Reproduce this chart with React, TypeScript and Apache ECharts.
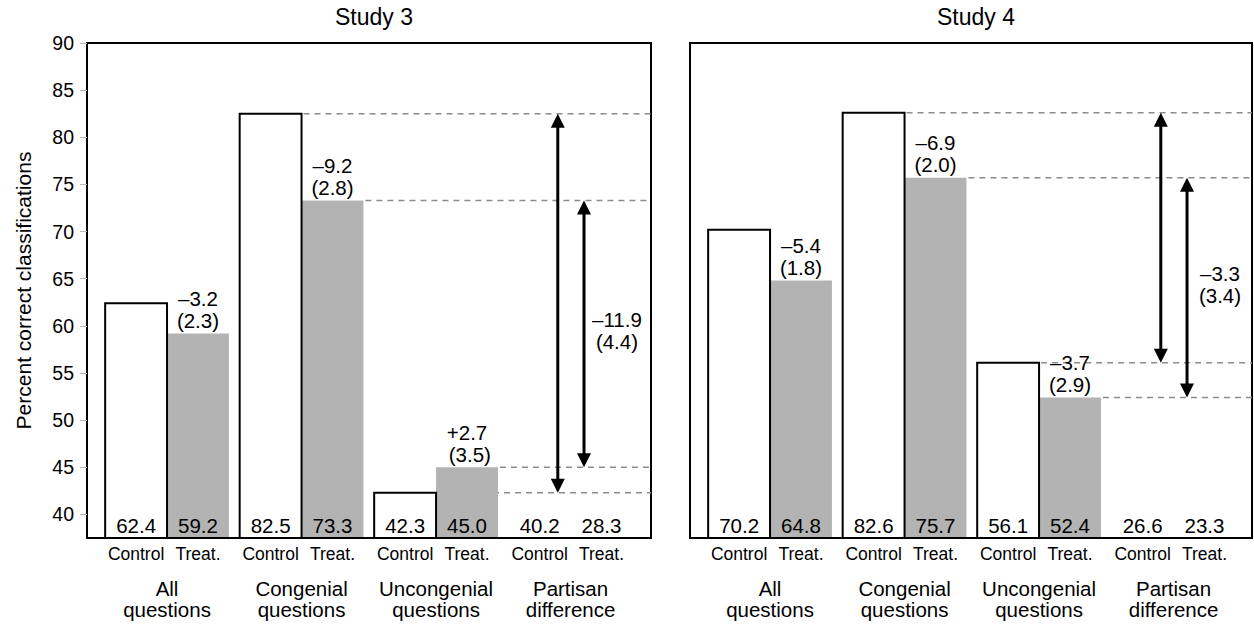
import React, { useEffect, useRef } from "react";
import * as echarts from "echarts";

// ---------- data ----------
const titles = ["Study 3", "Study 4"];
const groupLabels = ["All\nquestions", "Congenial\nquestions", "Uncongenial\nquestions", "Partisan\ndifference"];
const armLabels = ["Control", "Treat."];
const yTicks = [40, 45, 50, 55, 60, 65, 70, 75, 80, 85, 90];
const yAxisName = "Percent correct classifications";

const study3Control = [62.4, 82.5, 42.3];
const study3Treat = [59.2, 73.3, 45.0];
const study3PartisanDiff = [40.2, 28.3];
const study3Effects = ["\u20133.2\n(2.3)", "\u20139.2\n(2.8)", "+2.7\n (3.5)"];
const study3DiffEffect = "\u201311.9\n(4.4)";

const study4Control = [70.2, 82.6, 56.1];
const study4Treat = [64.8, 75.7, 52.4];
const study4PartisanDiff = [26.6, 23.3];
const study4Effects = ["\u20135.4\n(1.8)", "\u20136.9\n(2.0)", "\u20133.7\n(2.9)"];
const study4DiffEffect = "\u20133.3\n(3.4)";

// ---------- layout ----------
const FONT = '"Liberation Sans", Arial, Helvetica, sans-serif';
const Y_MIN = 37.5;
const Y_MAX = 90;
const BAR_W = 0.46;
const ARROW_L = -0.095;
const ARROW_R = 0.1;
const DIFF_TEXT = 0.345;

const panels = [
  {
    left: 87, right: 603, xMin: 0.405, xMax: 4.598, titleX: 369,
    control: study3Control, treat: study3Treat, diff: study3PartisanDiff,
    effects: study3Effects, diffEffect: study3DiffEffect,
  },
  {
    left: 690, right: 2, xMin: 0.405, xMax: 4.583, titleX: 971,
    control: study4Control, treat: study4Treat, diff: study4PartisanDiff,
    effects: study4Effects, diffEffect: study4DiffEffect,
  },
];

function buildOption() {
  const grid: any[] = [];
  const xAxis: any[] = [];
  const yAxis: any[] = [];
  const series: any[] = [];
  const title: any[] = [];

  panels.forEach((p, pi) => {
    grid.push({
      left: p.left, right: p.right, top: 43, bottom: 88,
      outerBoundsMode: "none", containLabel: false,
      show: true, borderColor: "#000", borderWidth: 2, backgroundColor: "transparent",
    });
    title.push({
      text: titles[pi], left: p.titleX, top: 0, textAlign: "center",
      textStyle: { fontSize: 23, fontWeight: "normal", color: "#000", fontFamily: FONT },
    });
    const armPositions: number[] = [];
    for (let g = 1; g <= groupLabels.length; g++) {
      armPositions.push(g - BAR_W / 2, g + BAR_W / 2);
    }
    // arm labels axis
    xAxis.push({
      type: "value", gridIndex: pi, min: p.xMin, max: p.xMax, position: "bottom",
      axisLine: { show: false }, axisTick: { show: false }, splitLine: { show: false },
      axisLabel: {
        customValues: armPositions,
        formatter: (v: number) => {
          const frac = v - Math.floor(v);
          return frac > 0.5 ? armLabels[0] : armLabels[1];
        },
        fontSize: 17.5, color: "#000", margin: 7, fontFamily: FONT,
      },
    });
    // group labels axis
    xAxis.push({
      type: "value", gridIndex: pi, min: p.xMin, max: p.xMax, position: "bottom",
      axisLine: { show: false }, axisTick: { show: false }, splitLine: { show: false },
      axisLabel: {
        customValues: groupLabels.map((_, i) => i + 1),
        formatter: (v: number) => groupLabels[Math.round(v) - 1] || "",
        fontSize: 20.5, lineHeight: 21, color: "#000", margin: 40, fontFamily: FONT,
      },
    });
    yAxis.push({
      type: "value", gridIndex: pi, min: Y_MIN, max: Y_MAX,
      show: pi === 0,
      axisLine: { show: false },
      splitLine: { show: false },
      axisTick: { show: true, customValues: yTicks, length: 7, lineStyle: { color: "#bbb", width: 1 } },
      axisLabel: { customValues: yTicks, fontSize: 19.5, color: "#000", margin: 13, fontFamily: FONT },
      name: pi === 0 ? yAxisName : "",
      nameLocation: "middle",
      nameGap: 53,
      nameTextStyle: { fontSize: 21, color: "#000", fontFamily: FONT },
    });

    const xIdx = pi * 2;
    const yIdx = pi;
    const xMax = p.xMax;

    // dashed reference lines (congenial + uncongenial, control and treat)
    const dashData: number[][] = [
      [2, p.control[1]],
      [3, p.control[2]],
      [2 + BAR_W, p.treat[1]],
      [3 + BAR_W, p.treat[2]],
    ];
    series.push({
      type: "custom", xAxisIndex: xIdx, yAxisIndex: yIdx, z: 1,
      data: dashData,
      renderItem: (params: any, api: any) => {
        const a = api.coord([api.value(0), api.value(1)]);
        const b = api.coord([xMax, api.value(1)]);
        return {
          type: "line",
          shape: { x1: a[0] + 2, y1: a[1], x2: b[0], y2: b[1] },
          style: { stroke: "#8c8c8c", lineWidth: 1.5, lineDash: [6, 5] },
        };
      },
    });

    // treat bars with effect labels
    series.push({
      type: "custom", xAxisIndex: xIdx, yAxisIndex: yIdx, z: 2,
      data: p.treat.map((v, i) => [i + 1, v]),
      renderItem: (params: any, api: any) => {
        const g = api.value(0);
        const v = api.value(1);
        const tl = api.coord([g, v]);
        const br = api.coord([g + BAR_W, Y_MIN]);
        const cx = (tl[0] + br[0]) / 2;
        return {
          type: "group",
          children: [
            {
              type: "rect",
              shape: { x: tl[0], y: tl[1], width: br[0] - tl[0], height: br[1] - tl[1] - 1 },
              style: { fill: "#b3b3b3" },
            },
            {
              type: "text", x: cx, y: tl[1] - 2,
              style: {
                text: p.effects[params.dataIndex],
                align: "center", verticalAlign: "bottom",
                textAlign: "center", textVerticalAlign: "bottom",
                fontSize: 20.5, lineHeight: 22, fontFamily: FONT, fill: "#000",
              },
            },
          ],
        };
      },
    });

    // control bars
    series.push({
      type: "custom", xAxisIndex: xIdx, yAxisIndex: yIdx, z: 3,
      data: p.control.map((v, i) => [i + 1, v]),
      renderItem: (params: any, api: any) => {
        const g = api.value(0);
        const v = api.value(1);
        const tl = api.coord([g - BAR_W, v]);
        const br = api.coord([g, Y_MIN]);
        return {
          type: "rect",
          shape: { x: tl[0], y: tl[1], width: br[0] - tl[0], height: br[1] - tl[1] },
          style: { fill: "#fff", stroke: "#000", lineWidth: 2 },
        };
      },
    });

    // arrows for partisan difference
    const arrowData = [
      [4 + ARROW_L, p.control[1], p.control[2]],
      [4 + ARROW_R, p.treat[1], p.treat[2]],
    ];
    series.push({
      type: "custom", xAxisIndex: xIdx, yAxisIndex: yIdx, z: 4,
      data: arrowData,
      renderItem: (params: any, api: any) => {
        const x = api.value(0);
        const t = api.coord([x, api.value(1)]);
        const b = api.coord([x, api.value(2)]);
        const hw = 7, hl = 14;
        return {
          type: "group",
          children: [
            {
              type: "line",
              shape: { x1: t[0], y1: t[1] + hl - 2, x2: b[0], y2: b[1] - hl + 2 },
              style: { stroke: "#000", lineWidth: 3 },
            },
            {
              type: "polygon",
              shape: { points: [[t[0], t[1]], [t[0] - hw, t[1] + hl], [t[0] + hw, t[1] + hl]] },
              style: { fill: "#000" },
            },
            {
              type: "polygon",
              shape: { points: [[b[0], b[1]], [b[0] - hw, b[1] - hl], [b[0] + hw, b[1] - hl]] },
              style: { fill: "#000" },
            },
          ],
        };
      },
    });

    // partisan difference effect label
    series.push({
      type: "custom", xAxisIndex: xIdx, yAxisIndex: yIdx, z: 5,
      data: [[4 + DIFF_TEXT, (p.treat[1] + p.treat[2]) / 2]],
      renderItem: (params: any, api: any) => {
        const c = api.coord([api.value(0), api.value(1)]);
        return {
          type: "text", x: c[0], y: c[1] - 3,
          style: {
            text: p.diffEffect,
            align: "center", verticalAlign: "middle",
            textAlign: "center", textVerticalAlign: "middle",
            fontSize: 20.5, lineHeight: 22, fontFamily: FONT, fill: "#000",
          },
        };
      },
    });

    // bottom value labels
    const valueLabels: number[][] = [];
    p.control.forEach((v, i) => valueLabels.push([i + 1 - BAR_W / 2, v]));
    p.treat.forEach((v, i) => valueLabels.push([i + 1 + BAR_W / 2, v]));
    valueLabels.push([4 - BAR_W / 2, p.diff[0]]);
    valueLabels.push([4 + BAR_W / 2, p.diff[1]]);
    series.push({
      type: "custom", xAxisIndex: xIdx, yAxisIndex: yIdx, z: 6,
      data: valueLabels,
      renderItem: (params: any, api: any) => {
        const c = api.coord([api.value(0), Y_MIN]);
        return {
          type: "text", x: c[0], y: c[1] - 13,
          style: {
            text: Number(api.value(1)).toFixed(1),
            align: "center", verticalAlign: "middle",
            textAlign: "center", textVerticalAlign: "middle",
            fontSize: 20.5, fontFamily: FONT, fill: "#000",
          },
        };
      },
    });
  });

  return {
    animation: false,
    backgroundColor: "#fff",
    textStyle: { fontFamily: FONT, color: "#000" },
    title, grid, xAxis, yAxis, series,
  };
}

export default function App() {
  const ref = useRef<HTMLDivElement>(null);
  useEffect(() => {
    if (!ref.current) return;
    const chart = echarts.init(ref.current, undefined, { renderer: "svg" });
    chart.setOption(buildOption() as any);
    return () => chart.dispose();
  }, []);
  return (
    <div
      ref={ref}
      style={{ position: "fixed", left: 0, top: 0, width: 1254, height: 626, background: "#fff" }}
    />
  );
}
